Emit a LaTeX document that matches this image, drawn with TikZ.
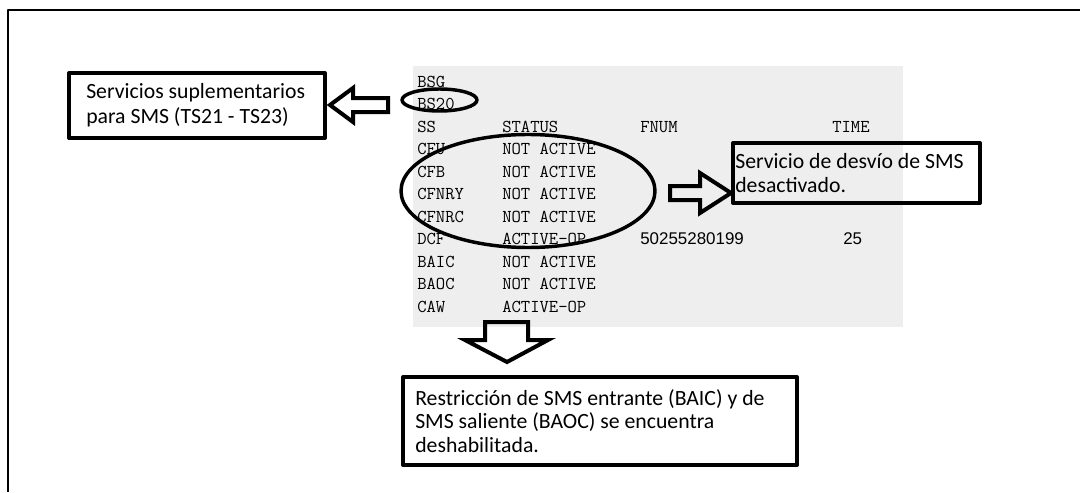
\documentclass[tikz,border=0pt]{standalone}
\usepackage{fontspec}
\setmainfont{Carlito}
\newfontfamily\numfont{Liberation Sans}
\usetikzlibrary{shapes.geometric}
\definecolor{panelgray}{HTML}{EEEEEE}
\tikzset{
	cell/.style={anchor=base west,inner sep=0pt,font=\ttfamily\fontsize{13.6}{15}\selectfont},
	numcell/.style={anchor=base west,inner sep=0pt,font=\numfont\fontsize{12.7}{14}\selectfont},
	infobox/.style={draw,line width=3pt,inner sep=0pt},
	boxtext/.style={anchor=west,align=left,inner sep=0pt,font=\fontsize{16.3}{17.5}\selectfont},
	ring/.style={draw,ellipse,line width=2.6pt,inner sep=0pt},
	blockarrow/.style={draw,line width=3pt,line join=miter}
}
\begin{document}
\begin{tikzpicture}[x=0.75pt,y=-0.75pt,line join=round]
		\useasboundingbox (0,0) rectangle (1080,492);
		\draw[line width=1.6pt] (1080,10)--(8,10)--(8,492);
		\fill[panelgray] (413,66) rectangle (903,327);
		\node[cell] (bsg) at (417,87) {BSG};
		\node[cell] (bs) at (417,109.5) {BS20};
		\node[cell] (hss) at (417,132) {SS};\node[cell] (hstatus) at (502,132) {STATUS};\node[cell] (hfnum) at (640,132) {FNUM};\node[cell] (htime) at (832,132) {TIME};
		\foreach \code/\state [count=\r from 3] in {CFU/NOT ACTIVE,CFB/NOT ACTIVE,CFNRY/NOT ACTIVE,CFNRC/NOT ACTIVE,DCF/ACTIVE-OP,BAIC/NOT ACTIVE,BAOC/NOT ACTIVE,CAW/ACTIVE-OP}{
			\node[cell] (ss\r) at (417,{87+22.5*\r}) {\code};
			\node[cell] (st\r) at (502,{87+22.5*\r}) {\state};
		}
		\node[numcell] (fnum) at (640,244.5) {50255280199};\node[numcell] (time) at (843,244.5) {25};
		\node[ring,minimum width=56.25pt,minimum height=16.5pt] (bsring) at (439.5,100) {};
		\node[ring,minimum width=190.5pt,minimum height=84.75pt] (cfring) at (528,191) {};
		\draw[blockarrow] (330,105)--(353,88)--(353,98)--(388,98)--(388,112)--(353,112)--(353,122)--cycle;
		\draw[blockarrow] (670,186)--(700,186)--(700,173)--(731,193)--(700,213)--(700,200)--(670,200)--cycle;
		\draw[blockarrow] (485,322)--(528,322)--(528,340)--(548,340)--(507,362)--(465,340)--(485,340)--cycle;
		% recuadros de texto
		\node[infobox,minimum width=192pt,minimum height=48.75pt] (svcbox) at (197,105.5) {};
		\node[boxtext,font=\fontsize{16.3}{18.75}\selectfont] (svctext) at ([xshift=14.25pt]svcbox.west) {Servicios suplementarios\\para SMS (TS21 - TS23)};
		\node[infobox,minimum width=185.25pt,minimum height=45pt] (fwdbox) at (856.5,173) {};
		\node[boxtext] (fwdtext) at ([xshift=3pt]fwdbox.west) {Servicio de desvío de SMS\\desactivado.};
		\node[infobox,minimum width=295.5pt,minimum height=66pt] (barbox) at (600,421) {};
		\node[boxtext] (bartext) at ([xshift=10.5pt]barbox.west) {Restricción de SMS entrante (BAIC) y de\\SMS saliente (BAOC) se encuentra\\deshabilitada.};
\end{tikzpicture}
\end{document}
